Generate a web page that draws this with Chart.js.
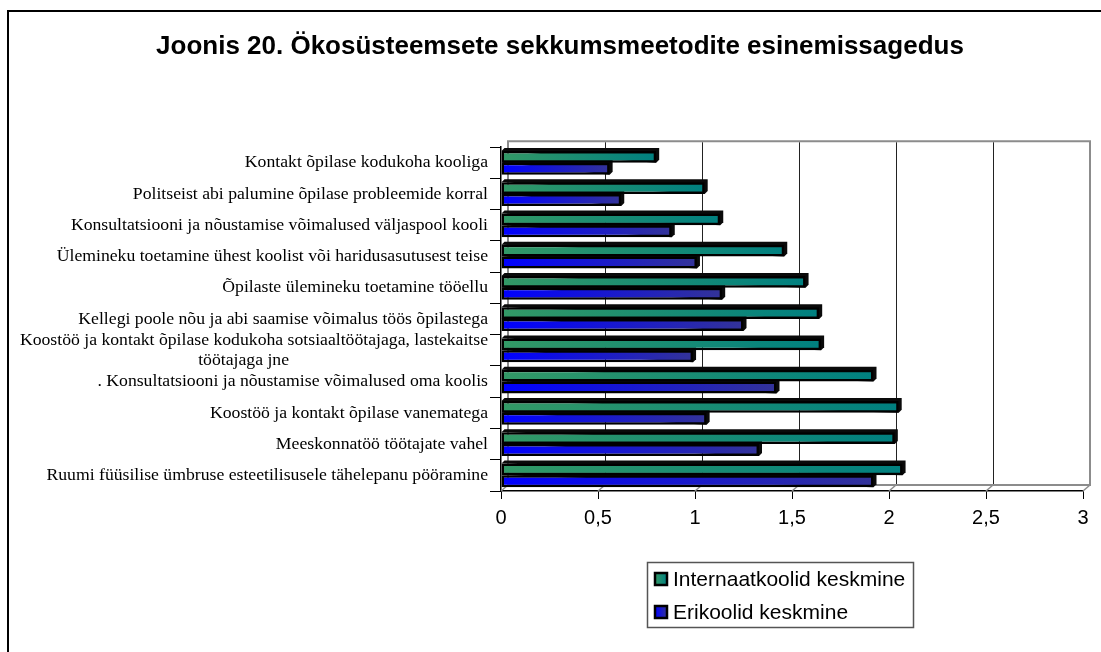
<!DOCTYPE html>
<html>
<head>
<meta charset="utf-8">
<script src="https://cdn.jsdelivr.net/npm/chart.js@4.4.0/dist/chart.umd.min.js"></script>
<style>
body { margin: 0; background: #fff; }
#wrap { position: relative; width: 1101px; height: 652px; overflow: hidden; }
#frame { position: absolute; left: 7px; top: 10px; width: 1200px; height: 700px;
         border-left: 2px solid #000; border-top: 2px solid #000; pointer-events: none; }
</style>
</head>
<body>
<div id="wrap">
  <canvas id="chart" width="1101" height="652"></canvas>
  <div id="frame"></div>
</div>
<script>
let NB = "\u00a0";

let categories = [
    "Kontakt õpilase kodukoha kooliga",
    "Politseist abi palumine õpilase probleemide korral",
    "Konsultatsiooni ja nõustamise võimalused väljaspool kooli",
    "Ülemineku toetamine ühest koolist või haridusasutusest teise",
    "Õpilaste ülemineku toetamine tööellu",
    "Kellegi poole nõu ja abi saamise võimalus töös õpilastega",
    ["Koostöö ja kontakt õpilase kodukoha sotsiaaltöötajaga, lastekaitse", "töötajaga jne" + NB.repeat(45)],
    ". Konsultatsiooni ja nõustamise võimalused oma koolis",
    "Koostöö ja kontakt õpilase vanematega",
    "Meeskonnatöö töötajate vahel",
    "Ruumi füüsilise ümbruse esteetilisusele tähelepanu pööramine"
];

let internaatValues = [0.80, 1.05, 1.13, 1.46, 1.57, 1.64, 1.65, 1.92, 2.05, 2.03, 2.07];
let erikoolValues   = [0.56, 0.62, 0.88, 1.01, 1.14, 1.25, 0.99, 1.42, 1.06, 1.33, 1.92];

let seriesNames = ["Internaatkoolid keskmine", "Erikoolid keskmine"];
let xTicks = [0, 0.5, 1, 1.5, 2, 2.5, 3];

/* gradient colours, left -> right */
let greenStops = ["#339966", "#008080"];
let blueStops = ["#0000ff", "#333399"];

function barGradient(ctx, stops) {
    let chart = ctx.chart;
    let area = chart.chartArea;
    if (!area) return stops[0];
    let x0 = area.left;
    let x1 = area.right;
    if (ctx.parsed && ctx.type === "data") {
        x1 = chart.scales.x.getPixelForValue(ctx.parsed.x);
    }
    if (x1 - x0 < 2) x1 = x0 + 2;
    let g = chart.ctx.createLinearGradient(x0, 0, x1, 0);
    g.addColorStop(0, stops[0]);
    g.addColorStop(1, stops[1]);
    return g;
}

/* back wall, floor, grid lines and the 3d sides of the bars, drawn behind the bars */
let wallPlugin = {
    id: "wall",
    beforeDatasetsDraw: function(chart) {
        let c = chart.ctx;
        let a = chart.chartArea;
        let xs = chart.scales.x;
        let dx = 7, dy = 6;
        c.save();
        // grid lines on back wall
        c.strokeStyle = "#222";
        c.lineWidth = 1;
        xTicks.forEach(function(v) {
            let px = Math.round(xs.getPixelForValue(v)) + dx + 0.5;
            c.beginPath();
            c.moveTo(px, a.top - dy + 1);
            c.lineTo(px, a.bottom - dy);
            c.stroke();
        });
        // wall outline
        c.strokeStyle = "#8c8c8c";
        c.lineWidth = 2;
        c.beginPath();
        c.moveTo(a.left + dx, a.bottom - dy);
        c.lineTo(a.left + dx, a.top - dy);
        c.lineTo(a.right + dx, a.top - dy);
        c.lineTo(a.right + dx, a.bottom - dy);
        c.lineTo(a.left + dx, a.bottom - dy);
        c.stroke();
        // floor diagonals
        c.lineWidth = 1.5;
        xTicks.forEach(function(v) {
            let px = xs.getPixelForValue(v);
            c.beginPath();
            c.moveTo(px, a.bottom);
            c.lineTo(px + dx, a.bottom - dy);
            c.stroke();
        });
        // 3d depth of each bar (top and right faces)
        let d = 3;
        c.fillStyle = "#0a0a0a";
        chart.data.datasets.forEach(function(ds, i) {
            chart.getDatasetMeta(i).data.forEach(function(el) {
                let p = el.getProps(["x", "y", "base", "height"], true);
                let t = p.y - p.height / 2, b = p.y + p.height / 2;
                c.beginPath();
                c.moveTo(p.base, t);
                c.lineTo(p.base + d, t - d);
                c.lineTo(p.x + d, t - d);
                c.lineTo(p.x + d, b - d);
                c.lineTo(p.x, b);
                c.closePath();
                c.fill();
            });
        });
        c.restore();
    }
};

/* legend box in two rows, like the original */
let legendPlugin = {
    id: "boxLegend",
    afterDraw: function(chart) {
        let c = chart.ctx;
        let a = chart.chartArea;
        let left = a.left + 146, top = a.bottom + 71, w = 266, h = 65;
        c.save();
        c.fillStyle = "#fff";
        c.fillRect(left, top, w, h);
        c.strokeStyle = "#555";
        c.lineWidth = 1.5;
        c.strokeRect(left + 0.5, top + 0.5, w, h);
        c.font = "21px 'Liberation Sans', Arial, sans-serif";
        c.textBaseline = "middle";
        chart.data.datasets.forEach(function(ds, i) {
            let cy = top + 17 + i * 33;
            let stops = i === 0 ? greenStops : blueStops;
            let g = c.createLinearGradient(left + 8, 0, left + 20, 0);
            g.addColorStop(0, stops[0]);
            g.addColorStop(1, stops[1]);
            c.fillStyle = g;
            c.fillRect(left + 8, cy - 6, 12, 12);
            c.strokeStyle = "#000";
            c.lineWidth = 2.5;
            c.strokeRect(left + 8, cy - 6, 12, 12);
            c.fillStyle = "#000";
            c.fillText(ds.label, left + 26, cy + 1);
        });
        c.restore();
    }
};

let ctx = document.getElementById("chart").getContext("2d");

let chart = new Chart(ctx, {
    type: "bar",
    data: {
        labels: categories,
        datasets: [
            {
                label: seriesNames[0],
                data: internaatValues,
                backgroundColor: function(context) { return barGradient(context, greenStops); },
                borderColor: "#000",
                borderWidth: 2.5,
                borderSkipped: false,
                categoryPercentage: 0.76,
                barPercentage: 1.0
            },
            {
                label: seriesNames[1],
                data: erikoolValues,
                backgroundColor: function(context) { return barGradient(context, blueStops); },
                borderColor: "#000",
                borderWidth: 2.5,
                borderSkipped: false,
                categoryPercentage: 0.76,
                barPercentage: 1.0
            }
        ]
    },
    options: {
        indexAxis: "y",
        responsive: false,
        animation: false,
        layout: {
            padding: { left: 8, right: 18, top: 0, bottom: 121 }
        },
        plugins: {
            legend: { display: false },
            tooltip: { enabled: false },
            title: {
                display: true,
                text: NB.repeat(4) + "Joonis 20. Ökosüsteemsete sekkumsmeetodite esinemissagedus",
                color: "#000",
                font: { family: "'Liberation Sans', Arial, sans-serif", size: 26, weight: "bold" },
                padding: { top: 31, bottom: 85 }
            }
        },
        scales: {
            x: {
                min: 0,
                max: 3,
                afterBuildTicks: function(scale) {
                    scale.ticks = xTicks.map(function(v) { return { value: v }; });
                },
                afterFit: function(scale) { scale.height = 40; },
                grid: {
                    drawOnChartArea: false,
                    color: "#000",
                    tickLength: 8,
                    lineWidth: 1
                },
                border: { color: "#000", width: 1.5 },
                ticks: {
                    color: "#000",
                    padding: 7,
                    font: { family: "'Liberation Sans', Arial, sans-serif", size: 20 },
                    callback: function(value) { return String(value).replace(".", ","); }
                }
            },
            y: {
                afterFit: function(scale) { scale.width = 493; },
                grid: {
                    drawOnChartArea: false,
                    color: "#000",
                    tickLength: 11,
                    offset: true
                },
                border: { color: "#000", width: 1.5 },
                ticks: {
                    color: "#000",
                    padding: 2,
                    autoSkip: false,
                    font: { family: "'Liberation Serif', 'Times New Roman', serif", size: 17.7, lineHeight: 1.12 }
                }
            }
        }
    },
    plugins: [wallPlugin, legendPlugin]
});
</script>
</body>
</html>
